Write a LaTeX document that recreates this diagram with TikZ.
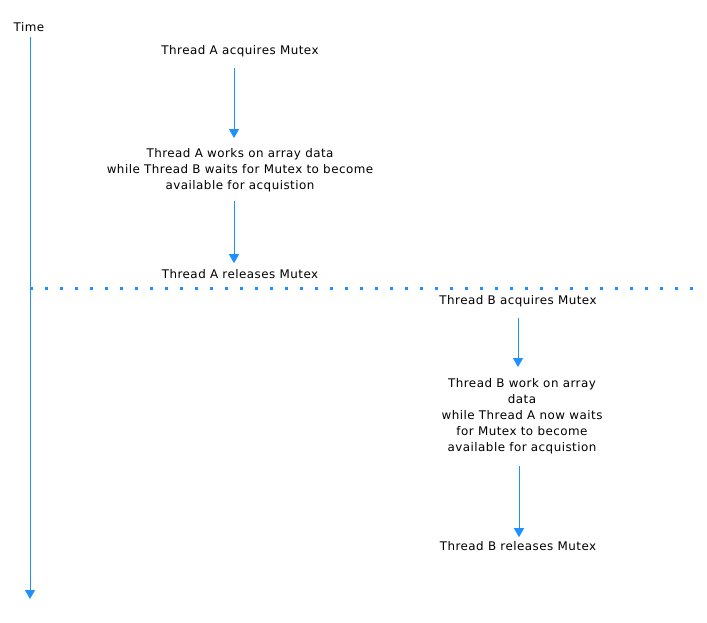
\documentclass[tikz,border=0pt]{standalone}
\usepackage{fontspec}
\setmainfont{DejaVu Sans}[LetterSpace=4]
\usetikzlibrary{arrows.meta}
\definecolor{lineblue}{RGB}{30,144,255}
\tikzset{
  txt/.style={font=\fontsize{11.9}{16}\selectfont, align=center, inner sep=0pt},
  flow/.style={draw=lineblue, line width=0.9pt, -{Triangle[width=10pt,length=9pt]}},
}

\begin{document}
\begin{tikzpicture}[x=1pt,y=-1pt]
		%%%%% START %%%%%
		\useasboundingbox (0,0) rectangle (707,623);
		
		% time axis
		\node[txt] (time) at (29,27) {Time};
		\coordinate (tend) at (30,599);
		\draw[flow] (time.south) ++(1,5) coordinate (tstart) -- (tend);
		
		% thread A
		\node[txt] (aacq) at (240,51) {Thread A acquires Mutex};
		\node[txt] (awork) at (240,170) {Thread A works on array data\\while Thread B waits for Mutex to become\\available for acquistion};
		\node[txt] (arel) at (240,274) {Thread A releases Mutex};
		\draw[flow, shorten <=11pt, shorten >=10pt] ([xshift=-6pt]aacq.south) -- ([xshift=-6pt]awork.north);
		\draw[flow, shorten <=9pt, shorten >=6pt] ([xshift=-6pt]awork.south) -- ([xshift=-6pt]arel.north);
		
		% hand over
		\coordinate (sl) at (30,288);
		\coordinate (sr) at (697,288);
		\draw[lineblue, line width=3pt, dash pattern=on 3pt off 12pt] (sl) -- (sr);
		
		% thread B
		\node[txt] (bacq) at (518,301) {Thread B acquires Mutex};
		\node[txt] (bwork) at (522,416) {Thread B work on array\\data\\while Thread A now waits\\for Mutex to become\\available for acquistion};
		\node[txt] (brel) at (518,546) {Thread B releases Mutex};
		\draw[flow, shorten <=11pt, shorten >=11pt] (bacq.south) -- (bacq.south |- bwork.north);
		\draw[flow, shorten <=12pt, shorten >=4pt] ([xshift=-3pt]bwork.south) -- ([xshift=-3pt]bwork.south |- brel.north);
		
		%%%%% END %%%%%
	\end{tikzpicture}
\end{document}
